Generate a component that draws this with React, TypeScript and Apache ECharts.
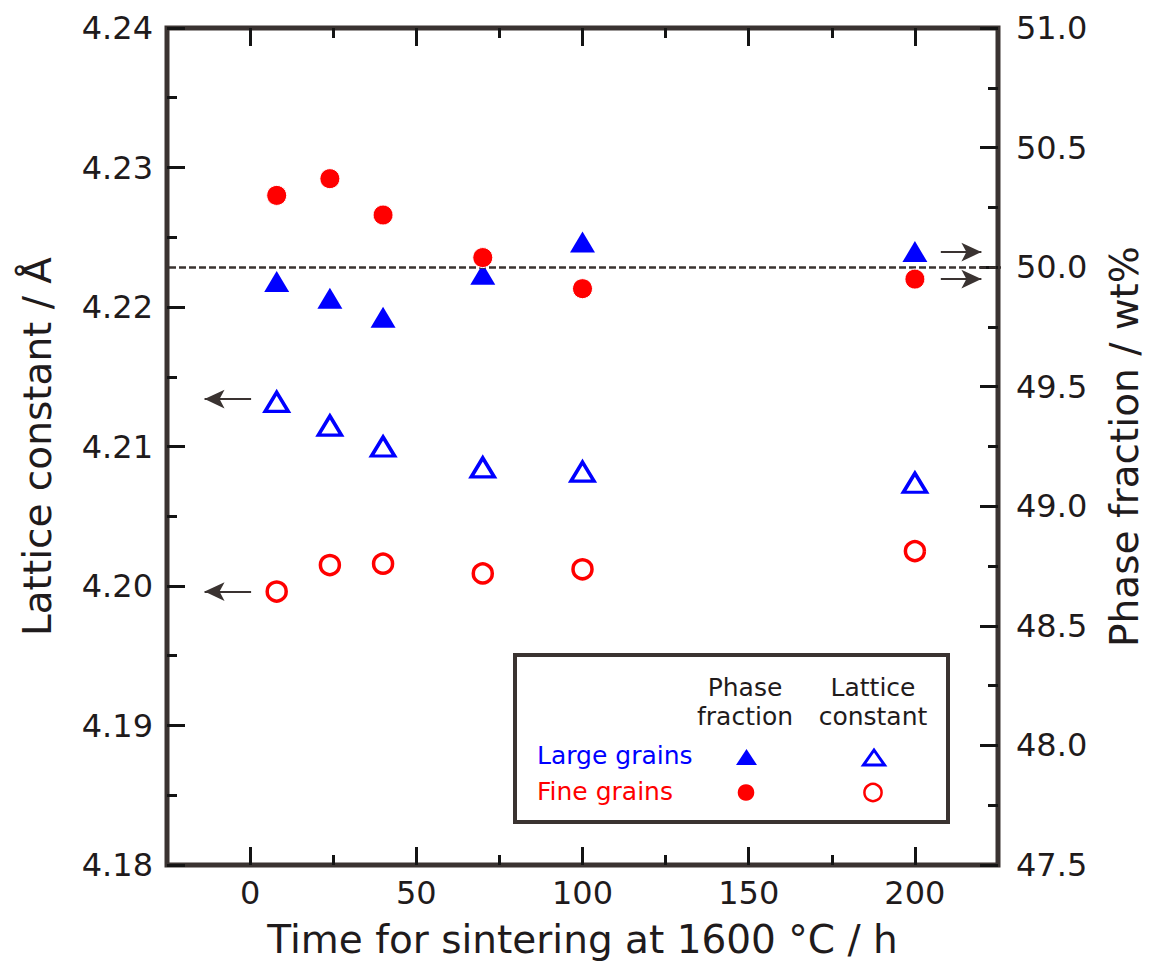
import React, { useEffect, useRef } from 'react';
import * as echarts from 'echarts';

// Sintering time (h)
const timeH = [8, 24, 40, 70, 100, 200];
// Lattice constant (Å) – left axis, hollow symbols
const largeLattice = [4.2132, 4.2115, 4.21, 4.2085, 4.2082, 4.2074];
const fineLattice = [4.1996, 4.2015, 4.2016, 4.2009, 4.2012, 4.2025];
// Phase fraction (wt%) – right axis, filled symbols
const largePhase = [49.94, 49.87, 49.79, 49.97, 50.105, 50.065];
const finePhase = [50.3, 50.37, 50.218, 50.04, 49.91, 49.95];

const xMajor = [0, 50, 100, 150, 200];
const xMinor = [25, 75, 125, 175];
const refPhase = 50.0;

const FONT = 'DejaVu Sans';
const FRAME = '#3a3331';
const TICK = '#141414';
const TEXT = '#1f1b1c';
const BLUE = '#0000ff';
const RED = '#ff0000';

function pairs(xs: number[], ys: number[]) {
  return xs.map((x, i) => [x, ys[i]]);
}

export default function App() {
  const ref = useRef<HTMLDivElement>(null);
  useEffect(() => {
    const chart = echarts.init(ref.current!, null, { renderer: 'svg' });
    const tickStyle = { color: TICK, width: 3 };
    const baseX: any = {
      type: 'value',
      min: -25,
      max: 225,
      gridIndex: 0,
      splitLine: { show: false },
      axisLine: { show: false, onZero: false },
    };
    const majorTick = { show: true, inside: true, length: 18, lineStyle: tickStyle, customValues: xMajor };
    const minorTickX = { show: true, inside: true, length: 10, lineStyle: tickStyle, customValues: xMinor };
    const arrowStyle = { color: FRAME, width: 2, type: 'solid', opacity: 1 };
    const arrowEnd = { symbol: 'arrow', symbolSize: [14, 20] };

    chart.setOption({
      animation: false,
      grid: {
        left: 167,
        right: 149,
        top: 28,
        bottom: 102,
        show: true,
        borderColor: FRAME,
        borderWidth: 5,
        backgroundColor: 'transparent',
      },
      xAxis: [
        {
          ...baseX,
          position: 'bottom',
          axisTick: majorTick,
          axisLabel: { customValues: xMajor, fontSize: 32, fontFamily: FONT, color: TEXT, margin: 12 },
          name: 'Time for sintering at 1600 °C / h',
          nameLocation: 'middle',
          nameGap: 55,
          nameTextStyle: { fontSize: 39, fontFamily: FONT, color: TEXT },
        },
        { ...baseX, position: 'bottom', axisTick: minorTickX, axisLabel: { show: false } },
        { ...baseX, position: 'top', axisTick: majorTick, axisLabel: { show: false } },
        { ...baseX, position: 'top', axisTick: minorTickX, axisLabel: { show: false } },
      ],
      yAxis: [
        {
          type: 'value',
          position: 'left',
          min: 4.18,
          max: 4.24,
          interval: 0.01,
          axisLine: { show: false, onZero: false },
          splitLine: { show: false },
          axisTick: { show: true, inside: true, length: 18, lineStyle: tickStyle },
          minorTick: { show: true, splitNumber: 2, length: 10, lineStyle: tickStyle },
          axisLabel: {
            formatter: (v: number) => v.toFixed(2),
            fontSize: 32,
            fontFamily: FONT,
            color: TEXT,
            margin: 14,
          },
          name: 'Lattice constant / Å',
          nameLocation: 'middle',
          nameGap: 110,
          nameRotate: 90,
          nameTextStyle: { fontSize: 39, fontFamily: FONT, color: TEXT },
        },
        {
          type: 'value',
          position: 'right',
          min: 47.5,
          max: 51,
          interval: 0.5,
          axisLine: { show: false, onZero: false },
          splitLine: { show: false },
          axisTick: { show: true, inside: true, length: 18, lineStyle: tickStyle },
          minorTick: { show: true, splitNumber: 2, length: 10, lineStyle: tickStyle },
          axisLabel: {
            formatter: (v: number) => v.toFixed(1),
            fontSize: 32,
            fontFamily: FONT,
            color: TEXT,
            margin: 18,
          },
          name: 'Phase fraction / wt%',
          nameLocation: 'middle',
          nameGap: 107,
          nameRotate: 90,
          nameTextStyle: { fontSize: 39, fontFamily: FONT, color: TEXT },
        },
      ],
      series: [
        {
          type: 'scatter',
          name: 'Large grains – lattice constant',
          xAxisIndex: 0,
          yAxisIndex: 0,
          data: pairs(timeH, largeLattice),
          symbol: 'triangle',
          symbolSize: [23, 19],
          itemStyle: { color: 'rgba(255,255,255,0)', borderColor: BLUE, borderWidth: 3.5, opacity: 1 },
          emphasis: { disabled: true },
          z: 3,
          markLine: {
            silent: true,
            symbol: 'none',
            label: { show: false },
            lineStyle: arrowStyle,
            emphasis: { disabled: true },
            data: [
              [
                { coord: [0.3, 4.2134], symbol: 'none' },
                { coord: [-13.7, 4.2134], ...arrowEnd },
              ],
              [
                { coord: [0.3, 4.1996], symbol: 'none' },
                { coord: [-13.7, 4.1996], ...arrowEnd },
              ],
            ],
          },
        },
        {
          type: 'scatter',
          name: 'Fine grains – lattice constant',
          xAxisIndex: 0,
          yAxisIndex: 0,
          data: pairs(timeH, fineLattice),
          symbol: 'circle',
          symbolSize: 19,
          itemStyle: { color: 'rgba(255,255,255,0)', borderColor: RED, borderWidth: 3.5, opacity: 1 },
          emphasis: { disabled: true },
          z: 3,
        },
        {
          type: 'scatter',
          name: 'Large grains – phase fraction',
          xAxisIndex: 0,
          yAxisIndex: 1,
          data: pairs(timeH, largePhase),
          symbol: 'triangle',
          symbolSize: [25, 21],
          itemStyle: { color: BLUE, opacity: 1 },
          emphasis: { disabled: true },
          z: 3,
          markLine: {
            silent: true,
            symbol: 'none',
            label: { show: false },
            emphasis: { disabled: true },
            lineStyle: arrowStyle,
            data: [
              [
                { yAxis: refPhase, x: 169, symbol: 'none', lineStyle: { color: FRAME, width: 2.5, type: [7, 3] } },
                { yAxis: refPhase, x: 1001, symbol: 'none' },
              ],
              [
                { coord: [207.8, 50.063], symbol: 'none' },
                { coord: [220, 50.063], ...arrowEnd },
              ],
              [
                { coord: [207.8, 49.95], symbol: 'none' },
                { coord: [220, 49.95], ...arrowEnd },
              ],
            ],
          },
        },
        {
          type: 'scatter',
          name: 'Fine grains – phase fraction',
          xAxisIndex: 0,
          yAxisIndex: 1,
          data: pairs(timeH, finePhase),
          symbol: 'circle',
          symbolSize: 20,
          itemStyle: { color: RED, borderColor: '#ffffff', borderWidth: 1, opacity: 1 },
          emphasis: { disabled: true },
          z: 6,
        },
      ],
      graphic: [
        {
          type: 'rect',
          shape: { x: 515, y: 655, width: 433, height: 167 },
          style: { fill: '#ffffff', stroke: FRAME, lineWidth: 4 },
          z: 10,
        },
        ...[
          { t: 'Phase', x: 745, y: 687 },
          { t: 'fraction', x: 745, y: 716 },
          { t: 'Lattice', x: 873, y: 687 },
          { t: 'constant', x: 873, y: 716 },
        ].map((d) => ({
          type: 'text',
          x: d.x,
          y: d.y,
          z: 11,
          style: {
            text: d.t,
            fontSize: 25,
            fontFamily: FONT,
            fill: TEXT,
            textAlign: 'center',
            textVerticalAlign: 'middle',
            align: 'center',
            verticalAlign: 'middle',
          },
        })),
        ...[
          { t: 'Large grains', y: 755, c: BLUE },
          { t: 'Fine grains', y: 791, c: RED },
        ].map((d) => ({
          type: 'text',
          x: 537,
          y: d.y,
          z: 11,
          style: {
            text: d.t,
            fontSize: 25,
            fontFamily: FONT,
            fill: d.c,
            textAlign: 'left',
            textVerticalAlign: 'middle',
            align: 'left',
            verticalAlign: 'middle',
          },
        })),
        {
          type: 'polygon',
          z: 11,
          shape: { points: [[746.5, 749], [757, 765], [736, 765]] },
          style: { fill: BLUE },
        },
        {
          type: 'polygon',
          z: 11,
          shape: { points: [[874, 750], [884.5, 765], [863.5, 765]] },
          style: { fill: 'none', stroke: BLUE, lineWidth: 3 },
        },
        {
          type: 'circle',
          z: 11,
          shape: { cx: 746, cy: 792.5, r: 8.3 },
          style: { fill: RED },
        },
        {
          type: 'circle',
          z: 11,
          shape: { cx: 873, cy: 792.5, r: 8.6 },
          style: { fill: 'none', stroke: RED, lineWidth: 2.5 },
        },
      ],
    });
    return () => chart.dispose();
  }, []);
  return (
    <div
      ref={ref}
      style={{ position: 'fixed', left: 0, top: 0, width: 1152, height: 967, background: '#ffffff' }}
    />
  );
}
